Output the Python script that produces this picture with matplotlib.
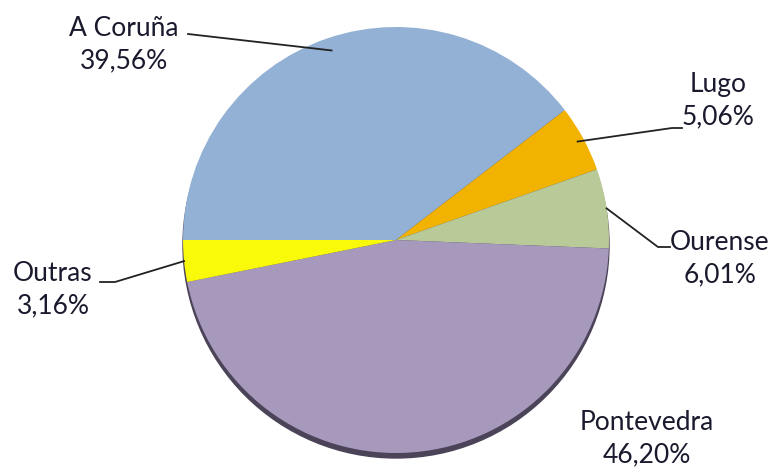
import numpy as np
import matplotlib.pyplot as plt

# -- data --
provincias = ["A Coruña", "Lugo", "Ourense", "Pontevedra", "Outras"]
porcentaxes = [39.56, 5.06, 6.01, 46.20, 3.16]
etiquetas = ["39,56%", "5,06%", "6,01%", "46,20%", "3,16%"]
cores = ["#93b0d5", "#f1b300", "#b8ca97", "#a799bc", "#f9f90a"]

# -- layout (pixel space, y up) --
W, H = 781, 476
cx, cy, r = 396, 236, 213
# label block centres
label_xy = [(124, H - 45), (718, H - 101), (720, H - 259), (647, H - 439), (53, H - 290)]
# leader polylines from the text side, None = no leader
leader_pts = [
    [(188, H - 34)],
    [(682, H - 128), (672, H - 128)],
    [(670, H - 247), (658, H - 247)],
    None,
    [(100, H - 282), (115, H - 282)],
]
anchor_frac = [0.94, 0.97, 1.0, 1.0, 1.0]

plt.rcParams["font.family"] = ["Lato", "DejaVu Sans"]

fig = plt.figure(figsize=(W / 100, H / 100), dpi=100)
ax = fig.add_axes([0, 0, 1, 1])

# shadow under the pie
shadow = plt.Circle((cx, cy - 5), r, color="#4b4358", zorder=0)
ax.add_patch(shadow)

wedges, _ = ax.pie(
    porcentaxes,
    colors=cores,
    startangle=180,
    counterclock=False,
    center=(cx, cy),
    radius=r,
    wedgeprops=dict(linewidth=0),
    frame=True,
)
ax.set_xlim(0, W)
ax.set_ylim(0, H)
ax.set_aspect("equal")
ax.axis("off")

for w, nome, pct, (tx, ty), pts, fr in zip(wedges, provincias, etiquetas, label_xy, leader_pts, anchor_frac):
    ax.text(tx, ty, f"{nome}\n{pct}", ha="center", va="center", fontsize=19,
            color="#1a1a2e", linespacing=1.38)
    if pts is None:
        continue
    th = np.deg2rad((w.theta1 + w.theta2) / 2)
    ax_pt = (cx + fr * r * np.cos(th), cy + fr * r * np.sin(th))
    xs = [p[0] for p in pts] + [ax_pt[0]]
    ys = [p[1] for p in pts] + [ax_pt[1]]
    ax.plot(xs, ys, color="#222222", lw=1.3, zorder=3)

fig.savefig("out.png", dpi=100)
